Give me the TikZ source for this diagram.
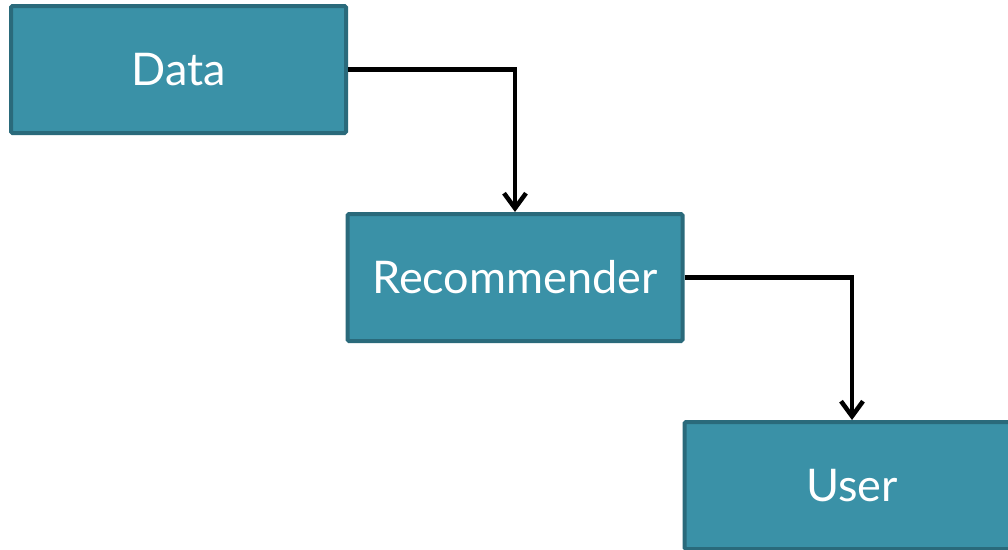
\documentclass[tikz,border=0pt]{standalone}
\usepackage{fontspec}
\setmainfont{Lato}
\usetikzlibrary{arrows.meta}
\definecolor{boxfill}{HTML}{3A91A7}
\definecolor{boxline}{HTML}{2A6A7B}
\tikzset{
  stage/.style={draw=boxline, fill=boxfill, line width=4pt, rounded corners=1.5pt,
    minimum width=335pt, minimum height=127pt, inner sep=0pt,
    text=white, font=\fontsize{45}{52}\selectfont},
  flow/.style={draw=black, line width=4.5pt, -{Straight Barb[length=15pt,width=22pt]}}
}
\begin{document}
\begin{tikzpicture}[x=1pt,y=-1pt]
\useasboundingbox (0,0) rectangle (1008,549);
\clip (0,0) rectangle (1008,549);
\node[stage] (data) at (178.5,69.5) {\raisebox{-2pt}{Data}};
\node[stage] (rec) at (515,277.5) {\raisebox{-2pt}{Recommender}};
\node[stage] (user) at (852,485.5) {\raisebox{-2pt}{User}};
\draw[flow] (data.east) -| (rec.north);
\draw[flow] (rec.east) -| (user.north);
\end{tikzpicture}
\end{document}
